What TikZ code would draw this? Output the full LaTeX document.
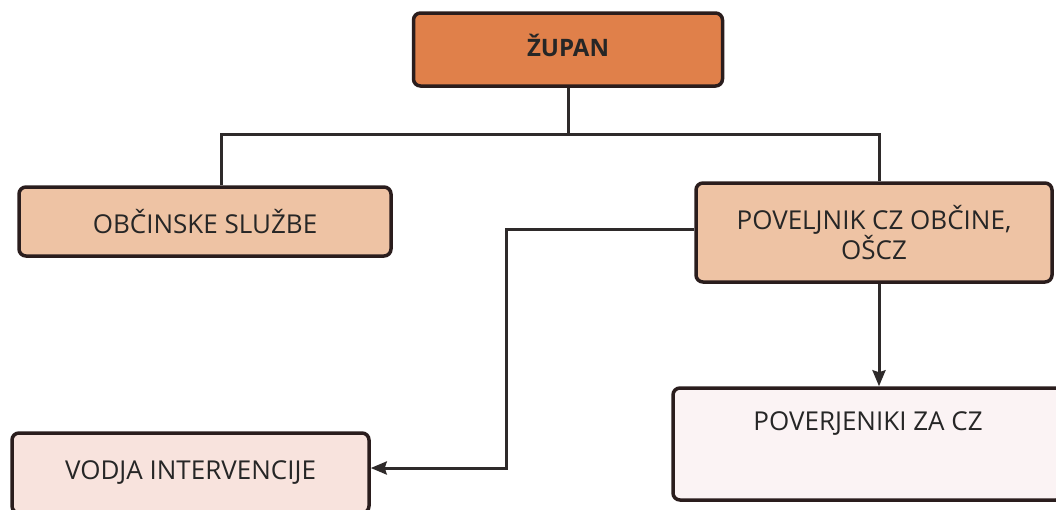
\documentclass[tikz,border=0pt]{standalone}
\usepackage{fontspec}
\setmainfont{Open Sans}
\usetikzlibrary{arrows.meta, positioning}

\definecolor{edge}{HTML}{2A1D1D}
\definecolor{wire}{HTML}{2E2A2A}
\definecolor{headfill}{HTML}{E0804A}
\definecolor{midfill}{HTML}{EEC3A4}
\definecolor{lowfill}{HTML}{F8E3DD}
\definecolor{palefill}{HTML}{FBF3F4}

\tikzset{
  unit/.style={draw=edge, line width=3.5pt, rounded corners=7pt, align=center,
    font=\fontsize{26}{29}\selectfont, text=black!85},
}

\begin{document}
\begin{tikzpicture}[x=1pt, y=-1pt, >={Stealth[length=16pt, width=13pt, inset=2pt]}, line width=3pt]
            \useasboundingbox (0,0) rectangle (1056,509);

            \node (zupan) [unit, fill=headfill, minimum width=309pt, minimum height=73pt, text depth=9pt,
              font=\bfseries\fontsize{24}{26}\selectfont] at (568,49.5) {ŽUPAN};
            \node (sluzbe) [unit, fill=midfill, minimum width=372pt, minimum height=69pt] at (205,221.5) {OBČINSKE SLUŽBE};
            \node (poveljnik) [unit, fill=midfill, minimum width=356pt, minimum height=99pt] at (874,232.5) {POVELJNIK CZ OBČINE,\\OŠCZ};
            \node (vodja) [unit, fill=lowfill, minimum width=357pt, minimum height=80pt] at (190.5,473) {VODJA INTERVENCIJE};
            \node (poverjeniki) [unit, fill=palefill, minimum width=390pt, minimum height=112pt, text depth=45pt] at (868,444) {POVERJENIKI ZA CZ};

            \draw [wire] (zupan.south) -- ++(0,47) coordinate (bus);
            \draw [wire] ([xshift=16pt]sluzbe.north) |- (bus) -| ([xshift=5pt]poveljnik.north);
            \coordinate (turn) at (506,350);
            \draw [wire, ->] ([yshift=3.5pt]poveljnik.west) -| (turn) |- ([yshift=5pt]vodja.east);
            \draw [wire, ->] ([xshift=5pt]poveljnik.south) -- ([xshift=5pt]poveljnik.south |- poverjeniki.north);
        \end{tikzpicture}
\end{document}
